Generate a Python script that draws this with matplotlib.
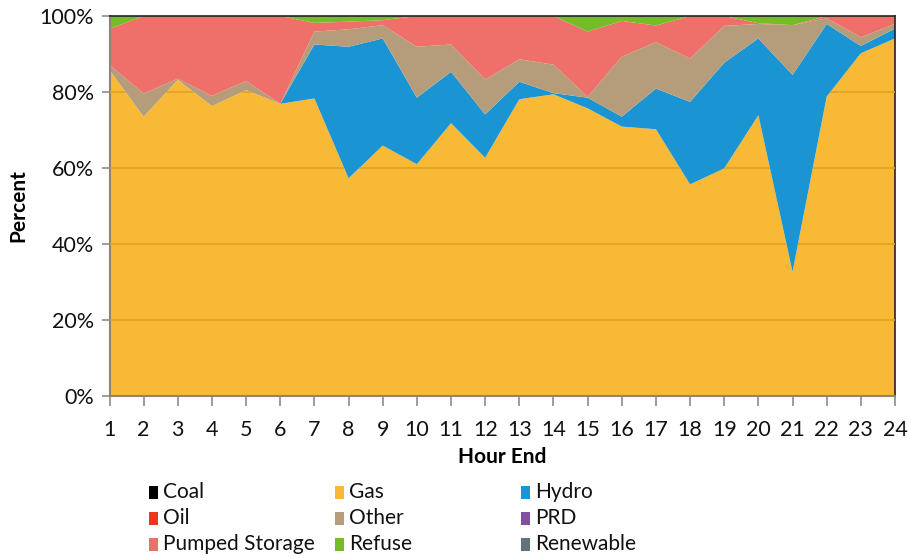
import matplotlib
matplotlib.use("Agg")
import matplotlib.pyplot as plt
from matplotlib.patches import Rectangle
from matplotlib.ticker import FuncFormatter, FixedLocator
import numpy as np

plt.rcParams['font.family'] = ['Lato', 'DejaVu Sans']

hours = list(range(1, 25))
series_names = ["Coal", "Gas", "Hydro", "Oil", "Other", "PRD", "Pumped Storage", "Refuse", "Renewable"]
colors = {"Coal": "#000000", "Gas": "#F8B936", "Hydro": "#1A94D2", "Oil": "#EE3524",
          "Other": "#B59D7B", "PRD": "#8350A0", "Pumped Storage": "#EF706A",
          "Refuse": "#76BC2A", "Renewable": "#5F737E"}

coal = [0] * 24
gas = [85.8, 73.5, 83.2, 76.3, 80.5, 76.9, 78.3, 57.3, 65.9, 61.0, 71.8, 62.7,
       78.1, 79.4, 75.7, 70.9, 70.2, 55.7, 59.9, 73.9, 32.7, 78.8, 90.2, 94.1]
hydro = [0, 0, 0, 0, 0, 0, 14.2, 34.6, 28.2, 17.5, 13.5, 11.4,
         4.6, 0.3, 2.8, 2.6, 10.7, 21.7, 27.8, 20.2, 51.8, 19.1, 1.9, 2.6]
oil = [0] * 24
other = [1.3, 6.1, 0.3, 2.7, 2.4, 0, 3.4, 4.6, 3.5, 13.4, 7.2, 9.2,
         5.9, 7.5, 0.2, 15.8, 12.2, 11.4, 9.7, 3.8, 13.1, 1.5, 2.3, 1.2]
prd = [0] * 24
pumped = [9.5, 20.4, 16.5, 21.0, 17.1, 23.1, 2.3, 2.0, 1.3, 8.1, 7.5, 16.7,
          11.4, 12.8, 17.2, 9.4, 4.4, 11.2, 2.6, 0.2, 0, 0.6, 5.6, 2.1]
refuse = [3.4, 0, 0, 0, 0, 0, 1.8, 1.5, 1.1, 0, 0, 0,
          0, 0, 4.1, 1.3, 2.5, 0, 0, 1.9, 2.4, 0, 0, 0]
renewable = [0] * 24

data = [coal, gas, hydro, oil, other, prd, pumped, refuse, renewable]
arr = np.array(data, dtype=float)
tot = arr.sum(axis=0)
arr = arr / tot * 100.0

W, H = 908, 559
fig = plt.figure(figsize=(W / 100, H / 100), dpi=100)
ax = fig.add_axes([109.5 / W, 1 - 396 / H, (895 - 109.5) / W, (396 - 16) / H])

polys = ax.stackplot(hours, arr, colors=[colors[n] for n in series_names], linewidth=0)
ax.set_xlim(1, 24)
ax.set_ylim(0, 100)

# gridlines visible on the gas area only
gas_path = polys[1].get_paths()[0]
for v in [20, 40, 60, 80]:
    ln, = ax.plot([1, 24], [v, v], color="#E0A023", lw=1.2, zorder=3)
    ln.set_clip_path(gas_path, ax.transData)

ax.xaxis.set_major_locator(FixedLocator(hours))
ax.set_yticks([0, 20, 40, 60, 80, 100])
ax.yaxis.set_major_formatter(FuncFormatter(lambda v, p: f"{int(v)}%"))

for s in ["left", "bottom"]:
    ax.spines[s].set_color("#8C8479")
    ax.spines[s].set_linewidth(1.5)
for s in ["top", "right"]:
    ax.spines[s].set_color("#222222")
    ax.spines[s].set_linewidth(1.2)

ax.tick_params(axis="x", length=7, width=1.2, color="#8C8C8C", labelsize=15.5, pad=10, labelcolor="#111111")
ax.tick_params(axis="y", length=6, width=1.2, color="#8C8C8C", labelsize=15.5, pad=5, labelcolor="#111111")

ax.set_xlabel("Hour End", fontsize=15, fontweight="bold", labelpad=5)
ax.set_ylabel("Percent", fontsize=15, fontweight="bold", labelpad=8)

# legend: 3 columns, equal width like the original
col_x = [149.3, 335.0, 520.7]
row_y = [492.0, 518.0, 544.0]
for i, name in enumerate(series_names):
    r, c = divmod(i, 3)
    x0 = col_x[c]
    y0 = row_y[r]
    fig.patches.append(Rectangle((x0 / W, 1 - (y0 + 6.5) / H), 9 / W, 13 / H,
                                 transform=fig.transFigure, facecolor=colors[name],
                                 edgecolor="none"))
    fig.text((x0 + 14) / W, 1 - y0 / H, name, fontsize=15, va="center", ha="left", color="#111111")

fig.savefig("out.png", dpi=100)
